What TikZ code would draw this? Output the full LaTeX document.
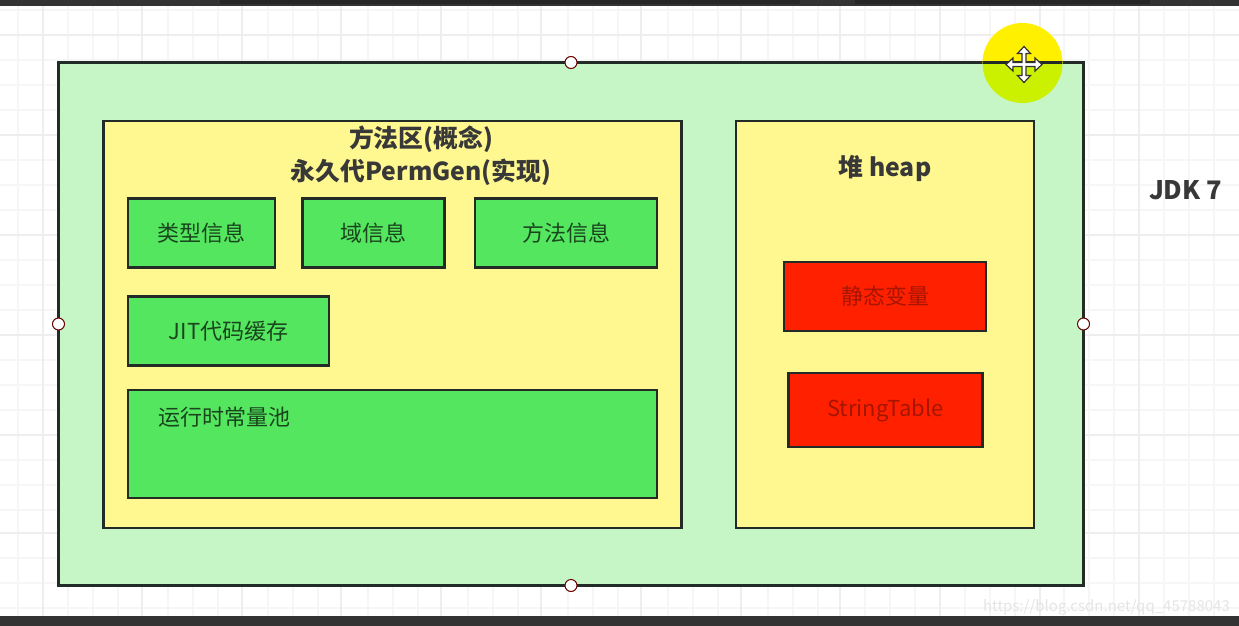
\documentclass[tikz,border=0pt]{standalone}
\usepackage{fontspec}
\setmainfont{Noto Sans CJK SC}
\usetikzlibrary{calc}
\definecolor{outergreen}{HTML}{C6F6C6}
\definecolor{paleyellow}{HTML}{FFF78F}
\definecolor{boxgreen}{HTML}{55E660}
\definecolor{boxred}{HTML}{FF2000}
\definecolor{edge}{HTML}{222B26}
\definecolor{gridminor}{HTML}{F6F6F6}
\definecolor{gridmajor}{HTML}{EEEEEE}
\definecolor{band}{HTML}{333333}
\definecolor{cursorlow}{HTML}{CBF000}
\definecolor{cursorhigh}{HTML}{FFF000}
\tikzset{
  x=1pt,y=-1pt,
  panel/.style={draw=edge,line width=2.4pt,anchor=north west,inner sep=0pt,outer sep=0pt},
  outerbox/.style={panel,fill=outergreen},
  yellowbox/.style={panel,fill=paleyellow},
  greenbox/.style={panel,fill=boxgreen,text=black!70!boxgreen,font=\fontsize{22}{24}\selectfont},
  redbox/.style={panel,fill=boxred,text=black!35!boxred,font=\fontsize{22}{24}\selectfont},
  titletext/.style={text=black!78,font=\fontsize{24.8}{33}\selectfont\bfseries,align=center,inner sep=0pt},
  handle/.style={circle,draw=black!60!red,fill=white,line width=1pt,minimum size=12pt,inner sep=0pt},
  minorgrid/.style={gridminor,line width=1.2pt},
  majorgrid/.style={gridmajor,line width=2pt},
}
\begin{document}
\begin{tikzpicture}
\useasboundingbox (0,0) rectangle (1239,626);
\fill[white] (0,0) rectangle (1239,626);
% grid paper
\foreach \gx in {18,68,93,118,168,193,218,268,293,318,368,393,418,468,493,518,568,593,618,668,693,718,768,793,818,865,890,915,965,990,1015,1064,1089,1114,1164,1189,1214}
  \draw[minorgrid] (\gx,6) -- (\gx,616);
\foreach \gy in {10,60,85,110,160,185,210,260,285,310,360,385,410,460,485,510,558,583,608}
  \draw[minorgrid] (0,\gy) -- (1239,\gy);
\foreach \gx in {43,142,242,341,441,541,641,741,840,940,1040,1139}
  \draw[majorgrid] (\gx,6) -- (\gx,616);
\foreach \gy in {35,135,235,335,435,533}
  \draw[majorgrid] (0,\gy) -- (1239,\gy);
% screen bands
\fill[band] (0,0) rectangle (1239,6);
\fill[black!85] (220,0) rectangle (800,4);
\fill[black!85] (855,0) rectangle (1150,4);
\fill[band] (0,616) rectangle (1239,626);
% outer
\node[outerbox,minimum width=1025pt,minimum height=523pt] (outer) at (58.5,62.5) {};
% yellow panels
\node[yellowbox,minimum width=578pt,minimum height=407pt] (method) at (103.5,121) {};
\node[yellowbox,minimum width=298pt,minimum height=407pt] (heap) at (736,121) {};
\node[titletext] (methodtitle) at (421,156) {方法区(概念)\\永久代PermGen(实现)};
\node[titletext] (heaptitle) at (885,168) {堆 heap};
% green boxes
\node[greenbox,minimum width=147pt,minimum height=69pt] (type) at (128,198.5) {类型信息};
\node[greenbox,minimum width=142pt,minimum height=69pt] (field) at (302.5,198.5) {域信息};
\node[greenbox,minimum width=182pt,minimum height=69pt] (meth) at (475,198.5) {方法信息};
\node[greenbox,minimum width=201pt,minimum height=69pt] (jit) at (128,296.5) {JIT代码缓存};
\node[greenbox,minimum width=529pt,minimum height=108pt] (pool) at (128,390) {};
\node[anchor=center,text=black!70!boxgreen,font=\fontsize{22}{24}\selectfont,inner sep=0pt] (pooltext) at (224,417) {运行时常量池};
% red boxes
\node[redbox,minimum width=202pt,minimum height=69pt] (static) at (784,262) {\raisebox{-2pt}{静态变量}};
\node[redbox,minimum width=194pt,minimum height=74pt] (table) at (788.5,373) {\raisebox{-2pt}{StringTable}};
% label
\node[text=black!78,font=\fontsize{25.5}{28}\selectfont\bfseries,inner sep=0pt] (jdk) at (1185.5,190) {JDK 7};
% selection handles
\node[handle] (ht) at (outer.north) {};
\node[handle] (hb) at (outer.south) {};
\node[handle] (hl) at (outer.west) {};
\node[handle] (hr) at (outer.east) {};
% pointer highlight
\coordinate (spot) at (1022.5,63);
\coordinate (cursor) at (1024,64.5);
\begin{scope}
\clip (900,0) rectangle (1239,62.5);
\fill[cursorhigh] (spot) circle (40);
\end{scope}
\begin{scope}
\clip (900,62.5) rectangle (1239,140);
\fill[cursorlow] (spot) circle (40);
\end{scope}
\draw[edge,line width=2.4pt] (983,62.5) -- (1062,62.5);
\begin{scope}[shift={(cursor)}]
\draw[black!80,fill=white,line width=1.2pt,line join=miter]
  (0,-18) -- (6.5,-11) -- (2,-11) -- (2,-2) -- (11,-2) -- (11,-6.5) -- (18,0) -- (11,6.5) -- (11,2) -- (2,2) -- (2,11) -- (6.5,11) -- (0,18) -- (-6.5,11) -- (-2,11) -- (-2,2) -- (-11,2) -- (-11,6.5) -- (-18,0) -- (-11,-6.5) -- (-11,-2) -- (-2,-2) -- (-2,-11) -- (-6.5,-11) -- cycle;
\end{scope}
% watermark
\node[anchor=east,text=black!10,font=\fontsize{15}{18}\selectfont,inner sep=0pt] (mark) at (1230,607) {https://blog.csdn.net/qq\_45788043};
\end{tikzpicture}
\end{document}
